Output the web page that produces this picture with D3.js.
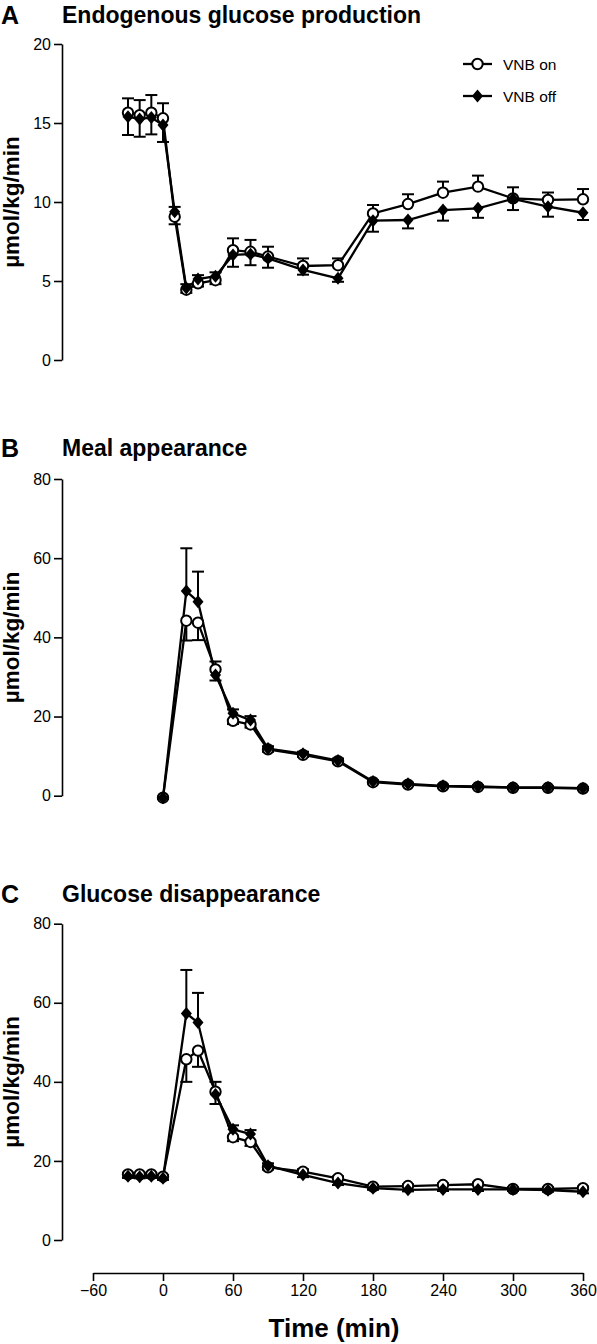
<!DOCTYPE html>
<html>
<head>
<meta charset="utf-8">
<script src="https://cdn.jsdelivr.net/npm/d3@7"></script>
<style>
  html, body { margin: 0; padding: 0; background: #fff; }
  svg { display: block; }
  text { font-family: "Liberation Sans", Arial, Helvetica, sans-serif; fill: #000; }
</style>
</head>
<body>
<svg id="chart" width="597" height="1344"></svg>
<script>
// ---------------- DATA ----------------
const xTicks = [-60, 0, 60, 120, 180, 240, 300, 360];
const yTicksA = [0, 5, 10, 15, 20];
const yTicksBC = [0, 20, 40, 60, 80];
const seriesNames = ["VNB on", "VNB off"];

// Panel A: Endogenous glucose production
const timesA = [-30, -20, -10, 0, 10, 20, 30, 45, 60, 75, 90, 120, 150, 180, 210, 240, 270, 300, 330, 360];
const egpOn    = [15.65, 15.5, 15.65, 15.3, 9.07, 4.45, 4.85, 5.05, 6.95, 6.85, 6.55, 5.95, 6.0, 9.28, 9.87, 10.59, 10.97, 10.23, 10.13, 10.17];
const egpOnErr = [0.91, 0.95, 1.12, 0.95, 0.48, 0.2, 0.2, 0.25, 0.75, 0.75, 0.62, 0.48, 0.43, 0.53, 0.62, 0.70, 0.70, 0.70, 0.47, 0.65];
const egpOff    = [15.4, 15.25, 15.35, 14.87, 9.39, 4.55, 5.12, 5.3, 6.65, 6.7, 6.43, 5.7, 5.17, 8.82, 8.86, 9.49, 9.6, 10.2, 9.7, 9.32];
const egpOffErr = [1.16, 1.12, 1.07, 1.07, 0.3, 0.25, 0.25, 0.25, 0.75, 0.7, 0.59, 0.3, 0.22, 0.7, 0.53, 0.67, 0.6, 0.71, 0.63, 0.46];

// Panel B: Meal appearance
const timesB = [0, 20, 30, 45, 60, 75, 90, 120, 150, 180, 210, 240, 270, 300, 330, 360];
const raOn    = [-0.5, 44.2, 43.7, 31.9, 18.9, 18.0, 11.7, 10.3, 8.7, 3.4, 2.8, 2.35, 2.2, 2.0, 2.0, 1.8];
const raOnErr = [0.3, 5.0, 4.4, 2.0, 0.8, 0.8, 0.6, 0.5, 0.5, 0.3, 0.3, 0.3, 0.3, 0.3, 0.3, 0.3];
const raOff    = [-0.5, 51.7, 49.0, 30.5, 20.8, 19.1, 11.9, 10.6, 8.9, 3.6, 3.0, 2.5, 2.35, 2.1, 2.1, 1.9];
const raOffErr = [0.3, 10.8, 7.6, 1.4, 1.0, 1.0, 0.6, 0.5, 0.5, 0.3, 0.3, 0.3, 0.3, 0.3, 0.3, 0.3];

// Panel C: Glucose disappearance
const timesC = [-30, -20, -10, 0, 20, 30, 45, 60, 75, 90, 120, 150, 180, 210, 240, 270, 300, 330, 360];
const rdOn    = [16.6, 16.6, 16.6, 16.0, 45.7, 47.9, 37.5, 26.0, 24.8, 18.4, 17.3, 15.6, 13.5, 13.65, 13.9, 14.1, 12.9, 12.9, 13.1];
const rdOnErr = [0.4, 0.4, 0.4, 0.4, 5.7, 4.1, 2.5, 1.0, 1.0, 0.6, 0.6, 0.5, 0.4, 0.4, 0.4, 0.4, 0.4, 0.4, 0.4];
const rdOff    = [16.1, 16.0, 16.1, 15.6, 57.3, 55.0, 36.8, 28.0, 26.8, 18.8, 16.5, 14.4, 13.1, 12.7, 12.8, 12.8, 12.8, 12.6, 12.2];
const rdOffErr = [0.4, 0.4, 0.4, 0.4, 11.0, 7.5, 2.4, 1.0, 1.0, 0.6, 0.6, 0.5, 0.4, 0.4, 0.4, 0.4, 0.4, 0.4, 0.4];

// ---------------- DRAW ----------------
const svg = d3.select("#chart");
svg.append("rect").attr("width", 597).attr("height", 1344).attr("fill", "#fff");

const FONT = '"Liberation Sans", Arial, Helvetica, sans-serif';
const x = d3.scaleLinear().domain([-60, 360]).range([93, 583]);
const axisX = 62;

const panels = [
  { letter: "A", title: "Endogenous glucose production", top: 44, bottom: 360, domain: [0, 20], ticks: yTicksA,
    times: timesA, on: egpOn, onErr: egpOnErr, off: egpOff, offErr: egpOffErr, legend: true, labelY: 23 },
  { letter: "B", title: "Meal appearance", top: 479, bottom: 795.7, domain: [0, 80], ticks: yTicksBC,
    times: timesB, on: raOn, onErr: raOnErr, off: raOff, offErr: raOffErr, legend: false, labelY: 456 },
  { letter: "C", title: "Glucose disappearance", top: 923.7, bottom: 1240, domain: [0, 80], ticks: yTicksBC,
    times: timesC, on: rdOn, onErr: rdOnErr, off: rdOff, offErr: rdOffErr, legend: false, labelY: 902 }
];

const diamondPath = (s) => `M0,${-s}L${s*0.85},0L0,${s}L${-s*0.85},0Z`;

panels.forEach(p => {
  const g = svg.append("g");
  const y = d3.scaleLinear().domain(p.domain).range([p.bottom, p.top]);

  // panel letter and title
  g.append("text").attr("x", 1).attr("y", p.labelY + 1)
    .attr("font-size", 25).attr("font-weight", "bold").text(p.letter);
  g.append("text").attr("x", 62).attr("y", p.labelY)
    .attr("font-size", 23).attr("font-weight", "bold").text(p.title);

  // y axis
  const ya = g.append("g").attr("transform", `translate(${axisX},0)`)
    .call(d3.axisLeft(y).tickValues(p.ticks).tickSize(8).tickPadding(3).tickSizeOuter(0));
  ya.select(".domain").attr("stroke", "#000").attr("stroke-width", 1.6);
  ya.selectAll(".tick line").attr("stroke", "#000").attr("stroke-width", 1.6);
  ya.selectAll(".tick text").attr("font-size", 16).attr("font-family", FONT).attr("fill", "#000");

  // y title
  g.append("text")
    .attr("transform", `translate(19,${(p.top + p.bottom) / 2}) rotate(-90)`)
    .attr("text-anchor", "middle").attr("font-size", 22.5).attr("font-weight", "bold")
    .text("\u00b5mol/kg/min");

  const rows = p.times.map((t, i) => ({ t, on: p.on[i], onErr: p.onErr[i], off: p.off[i], offErr: p.offErr[i] }));

  // error bars: higher series upward, lower series downward
  const bars = [];
  rows.forEach(r => {
    const onUp = r.on >= r.off;
    bars.push({ t: r.t, v: r.on, e: onUp ? r.onErr : -r.onErr });
    bars.push({ t: r.t, v: r.off, e: onUp ? -r.offErr : r.offErr });
  });
  const eb = g.append("g").attr("stroke", "#000").attr("stroke-width", 2).attr("fill", "none");
  eb.selectAll("line.v").data(bars).join("line").attr("class", "v")
    .attr("x1", d => x(d.t)).attr("x2", d => x(d.t))
    .attr("y1", d => y(d.v)).attr("y2", d => y(d.v + d.e));
  eb.selectAll("line.c").data(bars).join("line").attr("class", "c")
    .attr("x1", d => x(d.t) - 6).attr("x2", d => x(d.t) + 6)
    .attr("y1", d => y(d.v + d.e)).attr("y2", d => y(d.v + d.e));

  // lines
  const lineOn = d3.line().x(d => x(d.t)).y(d => y(d.on));
  const lineOff = d3.line().x(d => x(d.t)).y(d => y(d.off));
  g.append("path").datum(rows).attr("d", lineOn).attr("fill", "none").attr("stroke", "#000").attr("stroke-width", 2.3);
  g.append("path").datum(rows).attr("d", lineOff).attr("fill", "none").attr("stroke", "#000").attr("stroke-width", 2.3);

  // markers
  g.selectAll("circle.on").data(rows).join("circle").attr("class", "on")
    .attr("cx", d => x(d.t)).attr("cy", d => y(d.on)).attr("r", 5.2)
    .attr("fill", "#fff").attr("stroke", "#000").attr("stroke-width", 2);
  g.selectAll("path.off").data(rows).join("path").attr("class", "off")
    .attr("transform", d => `translate(${x(d.t)},${y(d.off)})`)
    .attr("d", diamondPath(6.5)).attr("fill", "#000");

  if (p.legend) {
    const lg = g.append("g");
    const ly = [64, 96];
    seriesNames.forEach((name, i) => {
      lg.append("line").attr("x1", 463).attr("x2", 492).attr("y1", ly[i]).attr("y2", ly[i])
        .attr("stroke", "#000").attr("stroke-width", 2.3);
      if (i === 0) {
        lg.append("circle").attr("cx", 477.5).attr("cy", ly[i]).attr("r", 5.2)
          .attr("fill", "#fff").attr("stroke", "#000").attr("stroke-width", 2);
      } else {
        lg.append("path").attr("transform", `translate(477.5,${ly[i]})`).attr("d", diamondPath(6.5)).attr("fill", "#000");
      }
      lg.append("text").attr("x", 503).attr("y", ly[i]).attr("dy", "0.36em")
        .attr("font-size", 15.5).text(name);
    });
  }
});

// x axis (bottom panel only)
const xa = svg.append("g").attr("transform", "translate(0,1273)")
  .call(d3.axisBottom(x).tickValues(xTicks).tickSize(8).tickPadding(4).tickSizeOuter(0)
    .tickFormat(d => d < 0 ? "\u2212" + Math.abs(d) : d));
xa.select(".domain").attr("stroke", "#000").attr("stroke-width", 1.6);
xa.selectAll(".tick line").attr("stroke", "#000").attr("stroke-width", 1.6);
xa.selectAll(".tick text").attr("font-size", 16).attr("font-family", FONT).attr("fill", "#000");

svg.append("text").attr("x", 334).attr("y", 1337).attr("text-anchor", "middle")
  .attr("font-size", 26).attr("font-weight", "bold").text("Time (min)");
</script>
</body>
</html>
